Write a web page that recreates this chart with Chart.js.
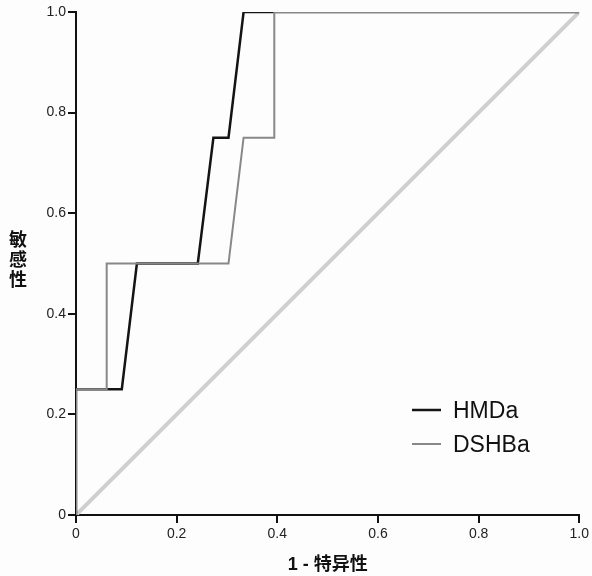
<!DOCTYPE html>
<html>
<head>
<meta charset="utf-8">
<script src="https://cdn.jsdelivr.net/npm/chart.js@4.4.1/dist/chart.umd.min.js"></script>
<style>
  html, body { margin: 0; padding: 0; background: #fdfdfd; }
  #wrap { width: 592px; height: 576px; position: relative; }
</style>
</head>
<body>
<div id="wrap"><canvas id="c" width="592" height="576"></canvas></div>
<script>
// ---- data ----
const seriesNames = ['HMDa', 'DSHBa'];
const hmdaX = [0, 0, 0.091, 0.121, 0.242, 0.273, 0.303, 0.333, 1.0];
const hmdaY = [0, 0.25, 0.25, 0.5, 0.5, 0.75, 0.75, 1.0, 1.0];
const dshbaX = [0, 0, 0.061, 0.061, 0.303, 0.333, 0.394, 0.394, 1.0];
const dshbaY = [0, 0.25, 0.25, 0.5, 0.5, 0.75, 0.75, 1.0, 1.0];
const refX = [0, 1];
const refY = [0, 1];
const tickValues = [0, 0.2, 0.4, 0.6, 0.8, 1.0];
const tickLabels = ['0', '0.2', '0.4', '0.6', '0.8', '1.0'];
const xTitle = '1 - 特异性';
const yTitle = ['敏', '感', '性'];

const toPts = (xs, ys) => xs.map((x, i) => ({ x: x, y: ys[i] }));
const colors = { HMDa: '#141414', DSHBa: '#888888', ref: '#cfcfcf' };

const textPlugin = {
  id: 'texts',
  afterDraw(chart) {
    const ctx = chart.ctx;
    const area = chart.chartArea;
    ctx.save();
    // y title stacked
    ctx.fillStyle = '#111';
    ctx.font = "bold 18px 'Noto Sans CJK SC', 'Liberation Sans', sans-serif";
    ctx.textAlign = 'center';
    ctx.textBaseline = 'middle';
    const cy = (area.top + area.bottom) / 2;
    yTitle.forEach((ch, i) => {
      ctx.fillText(ch, 18, cy + (i - 1) * 20 - 4);
    });
    // x title
    ctx.font = "bold 18px 'Liberation Sans', 'Noto Sans CJK SC', sans-serif";
    ctx.fillText(xTitle, (area.left + area.right) / 2, 565);
    // legend
    const legend = [
      { name: seriesNames[0], color: colors.HMDa, y: 410, w: 2.5 },
      { name: seriesNames[1], color: colors.DSHBa, y: 444, w: 2 }
    ];
    ctx.textAlign = 'left';
    ctx.textBaseline = 'alphabetic';
    ctx.font = "23px 'Liberation Sans', Arial, sans-serif";
    legend.forEach(l => {
      ctx.strokeStyle = l.color;
      ctx.lineWidth = l.w;
      ctx.beginPath();
      ctx.moveTo(412, l.y);
      ctx.lineTo(441, l.y);
      ctx.stroke();
      ctx.fillStyle = '#111';
      ctx.fillText(l.name, 453, l.y + 8);
    });
    ctx.restore();
  }
};

const axisCommon = {
  type: 'linear',
  min: 0,
  max: 1,
  border: { display: true, color: '#111', width: 2 },
  grid: { display: true, drawOnChartArea: false, drawTicks: true, tickLength: 8, color: '#111', lineWidth: 2 },
  afterBuildTicks(scale) { scale.ticks = tickValues.map(v => ({ value: v })); },
  ticks: {
    color: '#222',
    font: { family: "'Liberation Sans', Arial, sans-serif", size: 14 },
    callback(v) { const i = tickValues.indexOf(v); return i >= 0 ? tickLabels[i] : ''; }
  }
};

new Chart(document.getElementById('c'), {
  type: 'line',
  data: {
    datasets: [
      { label: seriesNames[1], data: toPts(dshbaX, dshbaY), borderColor: colors.DSHBa, borderWidth: 2, order: 0 },
      { label: seriesNames[0], data: toPts(hmdaX, hmdaY), borderColor: colors.HMDa, borderWidth: 2.5, order: 1 },
      { label: 'ref', data: toPts(refX, refY), borderColor: colors.ref, borderWidth: 4, order: 2 }
    ]
  },
  options: {
    responsive: false,
    animation: false,
    devicePixelRatio: 1,
    layout: { padding: { left: 0, right: 12, top: 12, bottom: 0 } },
    elements: { point: { radius: 0 }, line: { tension: 0, fill: false, borderCapStyle: 'butt', borderJoinStyle: 'miter' } },
    plugins: { legend: { display: false }, tooltip: { enabled: false } },
    scales: {
      x: Object.assign({}, axisCommon, {
        position: 'bottom',
        afterFit(scale) { scale.height = 61; },
        ticks: Object.assign({}, axisCommon.ticks, { padding: 3, maxRotation: 0, autoSkip: false })
      }),
      y: Object.assign({}, axisCommon, {
        position: 'left',
        afterFit(scale) { scale.width = 76; },
        ticks: Object.assign({}, axisCommon.ticks, { padding: 2 })
      })
    }
  },
  plugins: [textPlugin]
});
</script>
</body>
</html>
